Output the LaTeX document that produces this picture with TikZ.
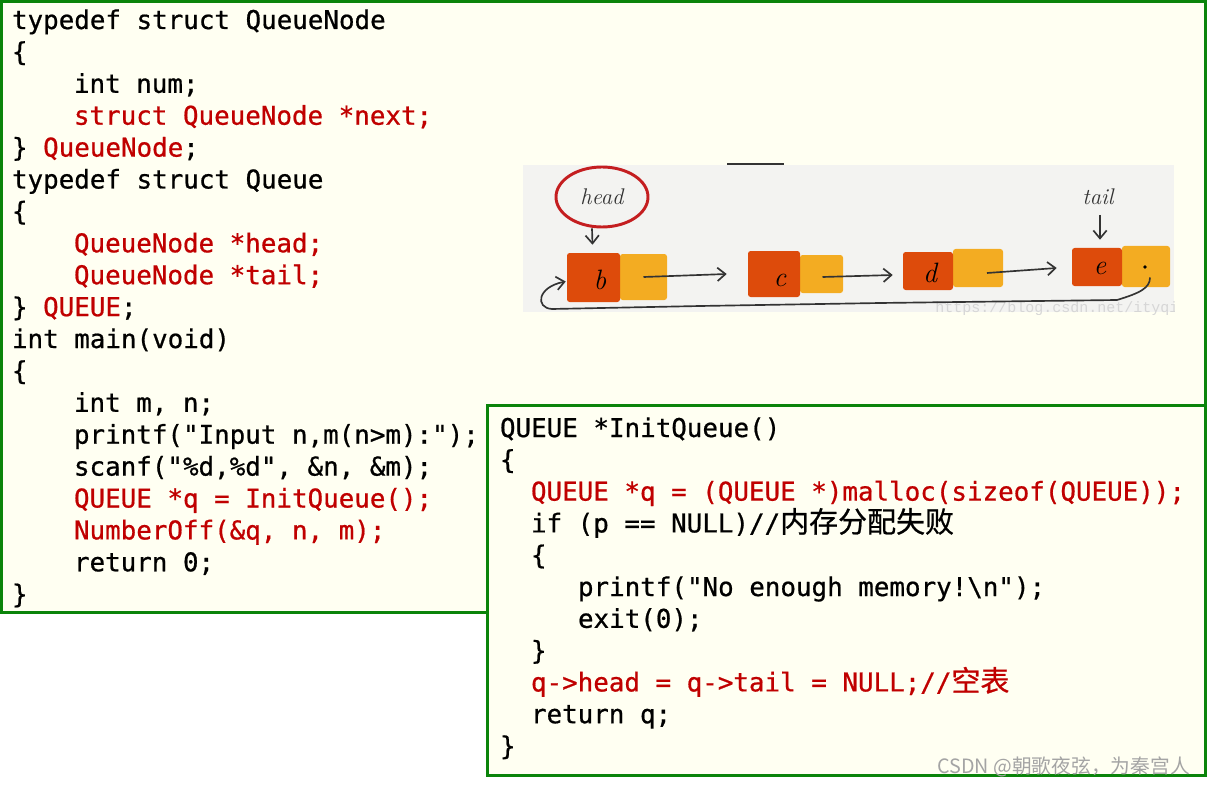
\documentclass[tikz,border=0pt]{standalone}
\usepackage{fontspec}
\usetikzlibrary{shapes.geometric,arrows.meta,calc}
\newfontfamily\codefont[FakeBold=0.7]{DejaVu Sans Mono}
\newfontfamily\cjkcode[Scale=1.12,FakeBold=0.7]{Noto Sans CJK SC}
\newfontfamily\cjkwm{Noto Sans CJK SC}
\newfontfamily\wmfont{Liberation Mono}
\definecolor{boxgreen}{HTML}{0A840A}
\definecolor{cream}{HTML}{FFFFF2}
\definecolor{codered}{HTML}{C00000}
\definecolor{panelgray}{HTML}{F3F3F1}
\definecolor{nodered}{HTML}{DD4B0B}
\definecolor{nodeyellow}{HTML}{F3AC22}
\definecolor{headred}{HTML}{C41E20}
\definecolor{inkgray}{HTML}{333333}
\definecolor{wmgray}{HTML}{D6D6D6}
\definecolor{csdngray}{HTML}{A4A4A4}
\newcommand\pxu{0.75pt}
\newcommand\rd[1]{{\color{codered}#1}}
\tikzset{
  code/.style={anchor=base west, inner sep=0pt, outer sep=0pt,
    font=\codefont\fontsize{19.4pt}{24pt}\selectfont, text=black},
  redcode/.style={code, text=codered},
  box/.style={draw=boxgreen, line width=2.25pt, fill=cream},
  cellR/.style={fill=nodered, rounded corners=2pt, inner sep=0pt},
  cellY/.style={fill=nodeyellow, rounded corners=2pt, inner sep=0pt},
  letter/.style={inner sep=0pt, font=\itshape\fontsize{21pt}{21pt}\selectfont, text=black},
  hand/.style={inner sep=0pt, font=\itshape\fontsize{17pt}{17pt}\selectfont, text=inkgray},
  arr/.style={draw=inkgray, line width=1.25pt, -{Straight Barb[length=6pt,width=10pt]}}
}
\begin{document}
\begin{tikzpicture}[x=0.75pt,y=-0.75pt]
\useasboundingbox (0,0) rectangle (1207,788);
\fill[white] (0,0) rectangle (1207,788);
% boxes
\draw[box] (1.5,1.5) rectangle (1205.5,612);
% left code
\node[code] (L0) at (12,29) {typedef struct QueueNode};
\node[code] (L1) at (12,60.9) {\{};
\node[code] (L2) at (74,92.8) {int num;};
\node[redcode] (L3) at (74,124.7) {struct QueueNode *next;};
\node[code] (L4) at (12,156.6) {\} \rd{QueueNode};};
\node[code] (L5) at (12,188.5) {typedef struct Queue};
\node[code] (L6) at (12,220.4) {\{};
\node[redcode] (L7) at (74,252.3) {QueueNode *head;};
\node[redcode] (L8) at (74,284.2) {QueueNode *tail;};
\node[code] (L9) at (12,316.1) {\} \rd{QUEUE};};
\node[code] (L10) at (12,348) {int main(void)};
\node[code] (L11) at (12,379.9) {\{};
\node[code] (L12) at (74,411.8) {int m, n;};
\node[code] (L13) at (74,443.7) {printf("Input n,m(n>m):");};
\node[code] (L14) at (74,475.6) {scanf("\%d,\%d", \&n, \&m);};
\node[redcode] (L15) at (74,507.5) {QUEUE *q = InitQueue();};
\node[redcode] (L16) at (74,539.4) {NumberOff(\&q, n, m);};
\node[code] (L17) at (74,571.3) {return 0;};
\node[code] (L18) at (12,603.2) {\}};
% list picture
\fill[panelgray] (523,165) rectangle (1174,312);
\draw[inkgray, line width=1.2pt] (727,164) -- (784,164);
\begin{scope}
\clip (523,165) rectangle (1174,314);
\node[anchor=base west, inner sep=0pt, text=wmgray, font=\wmfont\fontsize{11.25pt}{12pt}\selectfont] (wm) at (935,312) {https://blog.csdn.net/ityqi};
\end{scope}
\node[cellY, minimum width=47*\pxu, minimum height=46*\pxu] (bY) at (643.5,277) {};
\node[cellR, minimum width=53*\pxu, minimum height=49*\pxu] (bR) at (593.5,277.5) {};
\node[cellY, minimum width=43*\pxu, minimum height=38*\pxu] (cY) at (821.5,274) {};
\node[cellR, minimum width=52*\pxu, minimum height=46*\pxu] (cR) at (774,274) {};
\node[cellY, minimum width=50*\pxu, minimum height=38*\pxu] (dY) at (978,268) {};
\node[cellR, minimum width=50*\pxu, minimum height=38*\pxu] (dR) at (928,271) {};
\node[cellY, minimum width=48*\pxu, minimum height=41*\pxu] (eY) at (1146,266.5) {};
\node[cellR, minimum width=50*\pxu, minimum height=38*\pxu] (eR) at (1097,267) {};
\node[letter] (lb) at (600,280) {b};
\node[letter] (lc) at (780,280) {c};
\node[letter] (ld) at (930,273) {d};
\node[letter] (le) at (1100,268) {e};
\fill[black] (1145,267) circle (1.8);
\node[ellipse, draw=headred, line width=2.2pt, minimum width=92*\pxu, minimum height=60*\pxu, inner sep=0pt, hand] (head) at (602,197) {head};
\node[hand] (tail) at (1098,197) {tail};
\draw[arr] ($(head.south)+(-10,0)$) -- ($(bR.north)+(-1,-8)$);
\draw[arr] ($(tail.center)+(2,18)$) -- ($(eR.north)+(3,-8)$);
\draw[arr] (bY.center) -- ($(cR.west)+(-21,0)$);
\draw[arr] ($(cY.center)+(1,3)$) -- ($(dR.west)+(-10,4)$);
\draw[arr] ($(dY.center)+(9,5)$) -- ($(eR.west)+(-15,1)$);
\coordinate (loopstart) at ($(eY.center)+(4,11)$);
\draw[arr] (loopstart) .. controls (1150,288) and (1140,293) .. (1117,300) -- (880,303) -- (700,306) -- (552,309) .. controls (535,308) and (537,287) .. ($(bR.west)+(-1,4)$);
% right box
\draw[box] (487.5,405.5) rectangle (1205.5,775.5);
\node[code] (R0) at (500,437) {QUEUE *InitQueue()};
\node[code] (R1) at (500,468.8) {\{};
\node[redcode] (R2) at (531,500.6) {QUEUE *q = (QUEUE *)malloc(sizeof(QUEUE));};
\node[code] (R3) at (531,532.4) {if (p == NULL)//{\cjkcode 内存分配失败}};
\node[code] (R4) at (531,564.2) {\{};
\node[code] (R5) at (578,596) {printf("No enough memory!\textbackslash n");};
\node[code] (R6) at (578,627.8) {exit(0);};
\node[code] (R7) at (531,659.6) {\}};
\node[redcode] (R8) at (531,691.4) {q->head = q->tail = NULL;//{\cjkcode 空表}};
\node[code] (R9) at (531,723.2) {return q;};
\node[code] (R10) at (500,755) {\}};
\node[anchor=east, inner sep=0pt, text=csdngray, font=\cjkwm\fontsize{14.8pt}{16pt}\selectfont] (csdn) at (1190,767) {CSDN @朝歌夜弦，为秦宫人};
\end{tikzpicture}
\end{document}
